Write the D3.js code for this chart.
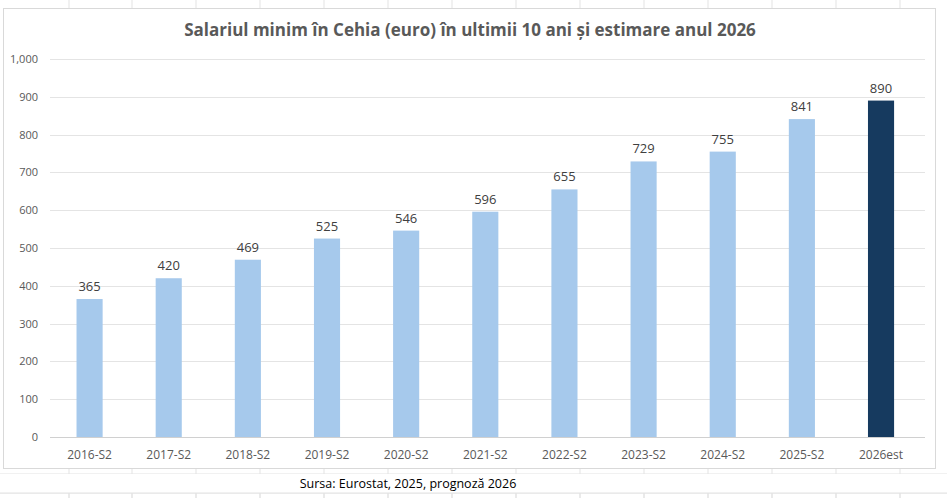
<!DOCTYPE html>
<html>
<head>
<meta charset="utf-8">
<script src="https://cdn.jsdelivr.net/npm/d3@7"></script>
<style>
  body { margin: 0; background: #fff; }
  svg { display: block; }
</style>
</head>
<body>
<script>
// data
var categories = ['2016-S2', '2017-S2', '2018-S2', '2019-S2', '2020-S2', '2021-S2',
                  '2022-S2', '2023-S2', '2024-S2', '2025-S2', '2026est'];
var values = [365, 420, 469, 525, 546, 596, 655, 729, 755, 841, 890];
var yTicks = [0, 100, 200, 300, 400, 500, 600, 700, 800, 900, 1000];

var W = 947, H = 498;
var font = "'Liberation Sans Narrow', 'Open Sans', Arial, sans-serif";

var svg = d3.select("body").append("svg")
  .attr("width", W)
  .attr("height", H);

// spreadsheet cells behind the chart
var colX = [69, 132, 196, 260, 324, 388, 452, 516, 580, 644, 708, 772, 836, 900];
svg.selectAll(".col").data(colX).enter().append("line")
  .attr("x1", d => d).attr("x2", d => d)
  .attr("y1", 0).attr("y2", H)
  .style("stroke", "#e3e3e3");
[474, 493].forEach(function (yy) {
  svg.append("line").attr("x1", 0).attr("x2", W).attr("y1", yy).attr("y2", yy)
    .style("stroke", "#e3e3e3");
});
svg.append("rect").attr("x", 0).attr("y", 474).attr("width", W).attr("height", 19)
  .style("fill", "#fff");
svg.append("line").attr("x1", 0).attr("x2", W).attr("y1", 493).attr("y2", 493)
  .style("stroke", "#e3e3e3");
colX.forEach(function (xx) {
  svg.append("line").attr("x1", xx).attr("x2", xx).attr("y1", 493).attr("y2", H)
    .style("stroke", "#e3e3e3");
});

// chart area
svg.append("rect")
  .attr("x", 3.5).attr("y", 8.5)
  .attr("width", 932).attr("height", 460)
  .style("fill", "#fff")
  .style("stroke", "#d9d9d9");

var x = d3.scaleBand()
  .domain(categories)
  .range([50, 920.6])
  .paddingInner(0.67)
  .paddingOuter(0.335);

var y = d3.scaleLinear()
  .domain([0, 1000])
  .range([437, 59]);

// gridlines
svg.append("g")
  .selectAll("line").data(yTicks).enter().append("line")
  .attr("x1", 50).attr("x2", 925)
  .attr("y1", d => Math.round(y(d)) + 0.5).attr("y2", d => Math.round(y(d)) + 0.5)
  .style("stroke", d => d === 0 ? "#d0d0d0" : "#e4e4e4");

// y axis labels
svg.append("g")
  .selectAll("text").data(yTicks).enter().append("text")
  .attr("x", 38)
  .attr("y", d => y(d) + 4)
  .attr("text-anchor", "end")
  .style("font-family", font)
  .style("font-size", "11px")
  .style("fill", "#595959")
  .text(d => d3.format(",")(d));

// bars
svg.append("g")
  .selectAll("rect").data(values).enter().append("rect")
  .attr("x", (d, i) => x(categories[i]))
  .attr("y", d => y(d))
  .attr("width", x.bandwidth())
  .attr("height", d => y(0) - y(d))
  .style("fill", (d, i) => i === values.length - 1 ? "#163a5f" : "#a6c9ec");

// data labels
svg.append("g")
  .selectAll("text").data(values).enter().append("text")
  .attr("x", (d, i) => x(categories[i]) + x.bandwidth() / 2)
  .attr("y", d => y(d) - 8)
  .attr("text-anchor", "middle")
  .style("font-family", font)
  .style("font-size", "13px")
  .style("fill", "#404040")
  .text(d => d);

// x axis labels
svg.append("g")
  .selectAll("text").data(categories).enter().append("text")
  .attr("x", d => x(d) + x.bandwidth() / 2)
  .attr("y", 459)
  .attr("text-anchor", "middle")
  .style("font-family", font)
  .style("font-size", "12px")
  .style("fill", "#595959")
  .text(d => d);

// title
svg.append("text")
  .attr("x", 470)
  .attr("y", 36)
  .attr("text-anchor", "middle")
  .style("font-family", font)
  .style("font-weight", "bold")
  .style("font-size", "17px")
  .style("fill", "#595959")
  .text("Salariul minim în Cehia (euro) în ultimii 10 ani și estimare anul 2026");

// source line in the cell under the chart
svg.append("text")
  .attr("x", 408)
  .attr("y", 488)
  .attr("text-anchor", "middle")
  .style("font-family", font)
  .style("font-size", "12.5px")
  .style("fill", "#000")
  .text("Sursa: Eurostat, 2025, prognoză 2026");
</script>
</body>
</html>
